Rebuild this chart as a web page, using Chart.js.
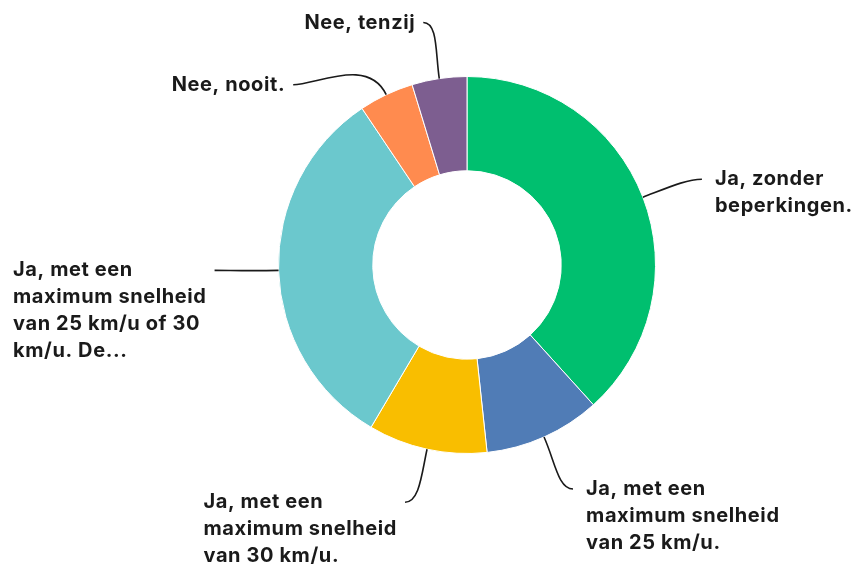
<!DOCTYPE html>
<html>
<head>
<meta charset="utf-8">
<script src="https://cdn.jsdelivr.net/npm/chart.js@4"></script>
<style>
    html, body { margin: 0; padding: 0; background: #fff; }
    #wrap { width: 854px; height: 565px; }
</style>
</head>
<body>
<div id="wrap"><canvas id="answers"></canvas></div>
<script>
const categories = [
    'Ja, zonder beperkingen.',
    'Ja, met een maximum snelheid van 25 km/u.',
    'Ja, met een maximum snelheid van 30 km/u.',
    'Ja, met een maximum snelheid van 25 km/u of 30 km/u. De...',
    'Nee, nooit.',
    'Nee, tenzij'
];
const shares = [38.3, 10.0, 10.2, 32.1, 4.7, 4.7];
const colors = ['#00bf6f', '#507cb6', '#f9be00', '#6bc8cd', '#ff8b4f', '#7d5e90'];

// where each leader line ends, relative to the slice's outer midpoint
const leaderEnds = [[59, -18], [29, 52], [-22, 53], [-64, 0], [-93, -10], [-16, -56]];

const labelFont = '700 20px Inter';
const labelLineHeight = 26.8;
const labelMaxWidth = 200;

function wrapText(ctx, text, maxWidth) {
    const words = text.split(' ');
    const lines = [];
    let line = '';
    words.forEach(function (w) {
        const test = line ? line + ' ' + w : w;
        if (line && ctx.measureText(test).width > maxWidth) {
            lines.push(line);
            line = w;
        } else {
            line = test;
        }
    });
    if (line) lines.push(line);
    return lines;
}

const outsideLabels = {
    id: 'outsideLabels',
    afterDatasetsDraw(chart) {
        const ctx = chart.ctx;
        const meta = chart.getDatasetMeta(0);
        ctx.save();
        ctx.font = labelFont;
        ctx.letterSpacing = '0.6px';
        meta.data.forEach(function (arc, i) {
            const p = arc.getProps(['x', 'y', 'startAngle', 'endAngle', 'outerRadius'], true);
            const mid = (p.startAngle + p.endAngle) / 2;
            const dx = Math.cos(mid), dy = Math.sin(mid);
            const sx = p.x + dx * p.outerRadius;
            const sy = p.y + dy * p.outerRadius;
            const ex = sx + leaderEnds[i][0];
            const ey = sy + leaderEnds[i][1];
            const dist = Math.hypot(ex - sx, ey - sy);
            const side = ex >= sx ? 1 : -1;

            ctx.beginPath();
            ctx.moveTo(sx, sy);
            ctx.bezierCurveTo(
                sx + dx * dist * 0.45, sy + dy * dist * 0.45,
                ex - side * dist * 0.25, ey,
                ex, ey
            );
            ctx.strokeStyle = '#1a1a1a';
            ctx.lineWidth = 1.6;
            ctx.stroke();

            const lines = wrapText(ctx, chart.data.labels[i], labelMaxWidth);
            const blockWidth = Math.max.apply(null, lines.map(l => ctx.measureText(l).width));
            const tx = side > 0 ? ex + 13 : ex - 8 - blockWidth;
            ctx.fillStyle = '#1a1a1a';
            ctx.textAlign = 'left';
            ctx.textBaseline = 'middle';
            lines.forEach(function (l, j) {
                ctx.fillText(l, tx, ey + j * labelLineHeight);
            });
        });
        ctx.restore();
    }
};

new Chart(
    document.getElementById('answers'),
    {
        type: 'doughnut',
        plugins: [outsideLabels],
        options: {
            responsive: true,
            maintainAspectRatio: false,
            animation: false,
            cutout: '50%',
            layout: {
                padding: { left: 278, right: 198, top: 76, bottom: 111 }
            },
            plugins: {
                legend: { display: false },
                tooltip: { enabled: false }
            }
        },
        data: {
            labels: categories,
            datasets: [
                {
                    data: shares,
                    backgroundColor: colors,
                    borderColor: '#ffffff',
                    borderWidth: 1
                }
            ]
        }
    }
);
</script>
</body>
</html>
